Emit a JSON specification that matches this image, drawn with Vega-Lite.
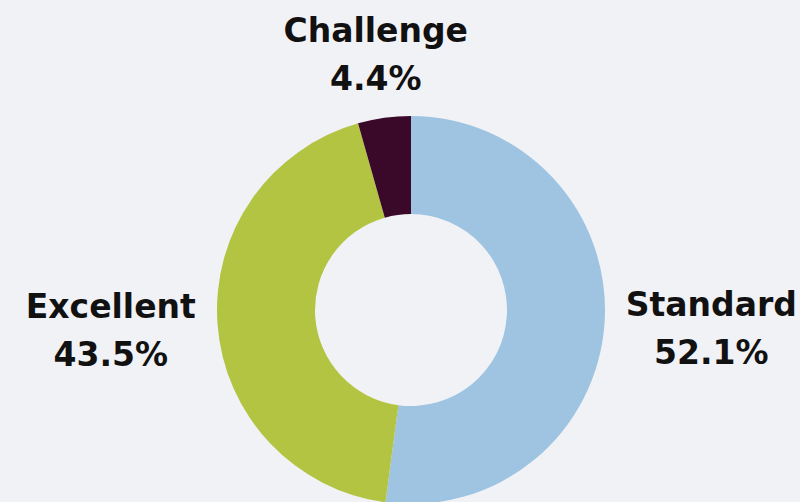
{
  "$schema": "https://vega.github.io/schema/vega-lite/v6.json",
  "width": 778,
  "height": 384,
  "autosize": {"type": "none"},
  "padding": {"left": 22, "top": 118, "right": 0, "bottom": 0},
  "background": "#f1f2f6",
  "config": {"view": {"stroke": null}},
  "data": {
    "values": [
      {"category": "Standard", "value": 52.1, "label": "Standard\n52.1%"},
      {"category": "Excellent", "value": 43.5, "label": "Excellent\n43.5%"},
      {"category": "Challenge", "value": 4.4, "label": "Challenge\n4.4%"}
    ]
  },
  "encoding": {
    "theta": {"field": "value", "type": "quantitative", "stack": true},
    "order": {"field": "category", "sort": "descending"}
  },
  "layer": [
    {
      "mark": {"type": "arc", "outerRadius": 194, "innerRadius": 96},
      "encoding": {
        "color": {
          "field": "category",
          "type": "nominal",
          "scale": {"domain": ["Standard", "Excellent", "Challenge"], "range": ["#9ec4e2", "#b3c443", "#3a0828"]},
          "legend": null
        }
      }
    },
    {
      "mark": {"type": "text", "radius": 301, "dy": -24, "font": "DejaVu Sans", "fontSize": 33, "fontWeight": "bold", "lineBreak": "\n", "lineHeight": 48, "align": "center", "baseline": "middle", "color": "#111111"},
      "encoding": {
        "text": {"condition": {"test": "datum.category !== 'Challenge'", "field": "label"}, "value": ""}
      }
    },
    {
      "mark": {"type": "text", "radius": 256, "dy": -24, "font": "DejaVu Sans", "fontSize": 33, "fontWeight": "bold", "lineBreak": "\n", "lineHeight": 48, "align": "center", "baseline": "middle", "color": "#111111"},
      "encoding": {
        "text": {"condition": {"test": "datum.category === 'Challenge'", "field": "label"}, "value": ""}
      }
    }
  ]
}
